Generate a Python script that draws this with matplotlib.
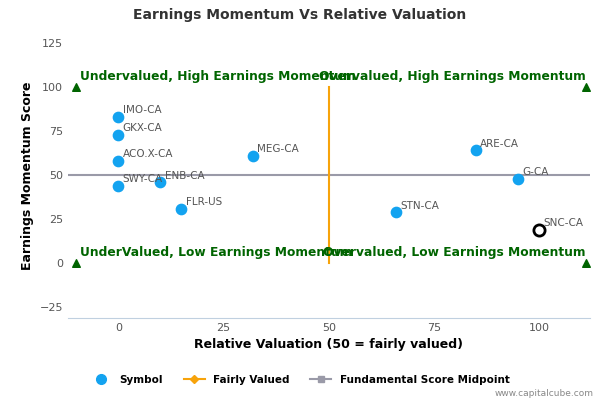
import matplotlib
matplotlib.use("Agg")
import matplotlib.pyplot as plt
from matplotlib.lines import Line2D

names = ["IMO-CA","GKX-CA","ACO.X-CA","SWY-CA","ENB-CA","FLR-US","MEG-CA","STN-CA","ARE-CA","G-CA"]
xs = [0,0,0,0,10,15,32,66,85,95]
ys = [83,73,58,44,46,31,61,29,64,48]
hl_name, hl_x, hl_y = "SNC-CA", 100, 19
tri_x = [-10,111,-10,111]
tri_y = [100,100,0,0]
quad_text = [("Undervalued, High Earnings Momentum",-9,104),("Overvalued, High Earnings Momentum",111,104),
             ("UnderValued, Low Earnings Momentum",-9,4),("Overvalued, Low Earnings Momentum",111,4)]

fig = plt.figure(figsize=(6,4), dpi=100)
ax = fig.add_axes([0.113,0.205,0.87,0.71])
ax.set_xlim(-12,112); ax.set_ylim(-31,130)
ax.plot([-12,112],[50,50],color="#9a9aa8",lw=1.5,zorder=1)
ax.plot([50,50],[0,100],color="#f7a30b",lw=1.5,zorder=1)
ax.scatter(xs,ys,s=55,color="#13a3f0",zorder=3)
ax.scatter([hl_x],[hl_y],s=65,facecolor="white",edgecolor="black",lw=2,zorder=3)
for n,x,y in zip(names+[hl_name],xs+[hl_x],ys+[hl_y]):
    ax.text(x+1,y+2,n,fontsize=7.5,color="#555555",zorder=4)
ax.scatter(tri_x,tri_y,marker="^",color="#006400",s=30,zorder=3)
for t,x,y in quad_text:
    ax.text(x,y,t,fontsize=8.8,color="#006400",fontweight="bold",ha="left" if x<0 else "right",zorder=4)
ax.set_xticks([0,25,50,75,100]); ax.set_yticks([-25,0,25,50,75,100,125])
ax.tick_params(labelsize=8,colors="#555555",length=0)
for s in ["top","right","left"]: ax.spines[s].set_visible(False)
ax.spines["bottom"].set_color("#c0d0e0")
ax.set_xlabel("Relative Valuation (50 = fairly valued)",fontsize=9,fontweight="bold")
ax.set_ylabel("Earnings Momentum Score",fontsize=9,fontweight="bold")
fig.suptitle("Earnings Momentum Vs Relative Valuation",x=0.5,y=0.98,fontsize=10,fontweight="bold",color="#333333")
handles=[Line2D([],[],marker="o",ls="",color="#13a3f0",ms=7),
         Line2D([],[],marker="D",color="#f7a30b",ms=4,lw=1.5),
         Line2D([],[],marker="s",color="#9a9aa8",ms=5,lw=1.5)]
fig.legend(handles,["Symbol","Fairly Valued","Fundamental Score Midpoint"],loc="lower center",
           bbox_to_anchor=(0.5,0.015),ncol=3,frameon=False,prop={"size":7.5,"weight":"bold"})
fig.text(0.99,0.01,"www.capitalcube.com",ha="right",fontsize=6.5,color="#888888")
fig.savefig("out.png")
